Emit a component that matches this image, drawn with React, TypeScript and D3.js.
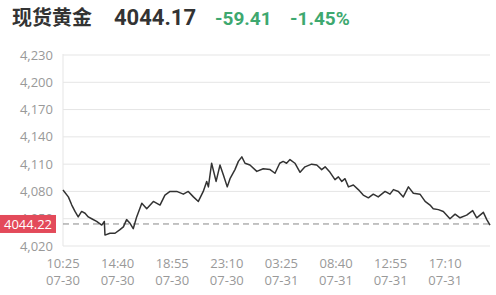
import React from "react";
import * as d3 from "d3";

const title = "现货黄金";
const lastPrice = "4044.17";
const change = "-59.41";
const changePct = "-1.45%";
const refPrice = 4044.22;

const yTicks = [4020, 4050, 4080, 4110, 4140, 4170, 4200, 4230];
// x-axis labels (trading-time axis, evenly spaced every 255 trading minutes)
const tickTimes = ["10:25", "14:40", "18:55", "23:10", "03:25", "08:40", "12:55", "17:10"];
const tickDates = ["07-30", "07-30", "07-30", "07-30", "07-31", "07-31", "07-31", "07-31"];
const tickStepMin = 255;
const totalMin = 1994;

// trading-minute offsets from 10:25 07-30, and prices
const minutes = [0, 25, 41, 56, 71, 87, 103, 118, 134, 157, 181, 193, 196, 219, 243, 266, 282, 297, 313, 328, 344, 368, 391, 422, 453, 476, 500, 531, 562, 585, 609, 632, 655, 671, 679, 694, 715, 733, 749, 767, 780, 803, 819, 835, 850, 873, 905, 935, 967, 990, 1012, 1028, 1044, 1060, 1083, 1107, 1130, 1161, 1185, 1208, 1224, 1247, 1270, 1286, 1302, 1317, 1333, 1356, 1379, 1402, 1426, 1449, 1472, 1504, 1527, 1543, 1566, 1589, 1613, 1636, 1667, 1691, 1714, 1729, 1753, 1776, 1807, 1831, 1854, 1885, 1913, 1932, 1963, 1979, 1994];
const prices = [4081.6, 4074, 4065, 4058, 4052, 4058, 4056, 4052, 4050, 4047, 4043, 4047, 4032, 4034, 4034, 4038, 4041, 4049, 4045, 4039, 4052, 4067, 4061, 4069, 4065, 4076, 4080, 4080, 4077, 4080, 4074, 4069, 4080, 4091, 4085, 4111, 4091, 4109, 4098, 4085, 4094, 4104, 4113, 4118, 4111, 4109, 4102, 4105, 4104, 4100, 4111, 4113, 4111, 4115, 4111, 4101, 4107, 4110, 4109, 4104, 4107, 4101, 4093, 4096, 4091, 4094, 4085, 4087, 4082, 4076, 4073, 4077, 4074, 4080, 4077, 4082, 4080, 4074, 4085, 4078, 4077, 4069, 4065, 4061, 4060, 4058, 4050, 4055, 4051, 4054, 4059, 4051, 4057, 4049, 4043];

export default function App() {
  const W = 496, H = 295;
  const left = 63, right = 490, top = 55, bottom = 246;
  const x = d3.scaleLinear().domain([0, totalMin]).range([left, right]);
  const y = d3.scaleLinear().domain([4020, 4230]).range([bottom, top]);
  const data = minutes.map((m, i) => ({ m, v: prices[i] }));
  const line = d3.line<any>().x(d => x(d.m)).y(d => y(d.v));
  const fmtY = d3.format(",");
  const labelFont = "'Open Sans', 'Noto Sans CJK SC', sans-serif";
  const headFont = "'Liberation Sans Narrow', 'Roboto', 'Noto Sans CJK SC', sans-serif";
  const green = "#3ea86f";
  return (
    <svg width={W} height={H} style={{ position: "absolute", left: 0, top: 0 }}>
      <rect width={W} height={H} fill="#fff" />
      <text x={12} y={25} fontSize={20} fontWeight="bold" fill="#333" fontFamily="'Noto Sans CJK SC', sans-serif">{title}</text>
      <text x={114} y={25} fontSize={22} fontWeight="bold" fill="#333" fontFamily={headFont}>{lastPrice}</text>
      <text x={215} y={25} fontSize={19} fontWeight="bold" fill={green} fontFamily={headFont}>{change}</text>
      <text x={290} y={25} fontSize={19} fontWeight="bold" fill={green} fontFamily={headFont}>{changePct}</text>
      {yTicks.map(t => (
        <g key={t}>
          <line x1={left} x2={right} y1={y(t)} y2={y(t)} stroke="#e5e5e5" strokeWidth={1} />
          <text x={53} y={y(t)} dy="0.35em" textAnchor="end" fontSize={13} fill="#999" fontFamily={labelFont}>{fmtY(t)}</text>
        </g>
      ))}
      <line x1={left} x2={left} y1={top - 1} y2={bottom} stroke="#e5e5e5" />
      {tickTimes.map((t, i) => (
        <g key={i}>
          <text x={x(i * tickStepMin)} y={268} textAnchor="middle" fontSize={13} fill="#999" fontFamily={labelFont}>{t}</text>
          <text x={x(i * tickStepMin)} y={285} textAnchor="middle" fontSize={13} fill="#999" fontFamily={labelFont}>{tickDates[i]}</text>
        </g>
      ))}
      <line x1={left} x2={right} y1={y(refPrice)} y2={y(refPrice)} stroke="#888" strokeDasharray="6,4" strokeWidth={1} />
      <path d={line(data) || ""} fill="none" stroke="#333" strokeWidth={1.5} strokeLinejoin="round" />
      <rect x={0} y={y(refPrice) - 9} width={56} height={18} fill="#e34a5a" />
      <text x={28} y={y(refPrice)} dy="0.36em" textAnchor="middle" fontSize={13} fill="#fff" fontFamily={labelFont}>{refPrice.toFixed(2)}</text>
    </svg>
  );
}
